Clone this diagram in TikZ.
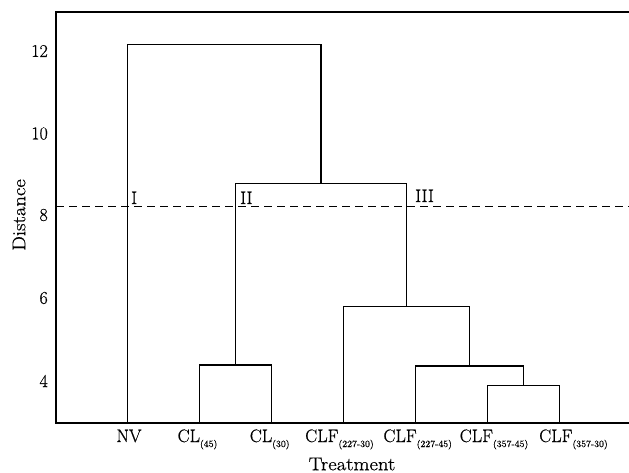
\documentclass[tikz,border=0pt]{standalone}
\usepackage{fontspec}
\setmainfont{Latin Modern Roman}[FakeBold=0.6]
\newfontfamily\widefont{Latin Modern Roman}[FakeStretch=1.12,FakeBold=0.6]
\newcommand{\subl}[1]{\raisebox{-5pt}{\fontsize{9.5}{10}\selectfont #1}}
\begin{document}
\begin{tikzpicture}[x=1pt,y=-1pt,
  txt/.style={font=\fontsize{18}{21}\selectfont, inner sep=0pt},
  widetxt/.style={font=\fontsize{18.5}{21}\widefont, inner sep=0pt},
  axisline/.style={line width=1.5pt},
  branch/.style={line width=1.4pt},
  cut/.style={line width=1.3pt, dash pattern=on 8pt off 5pt}]
\useasboundingbox (0,0) rectangle (629,473);

% axes
\coordinate (tr) at (629,12);
\coordinate (tl) at (56,12);
\coordinate (bl) at (56,423);
\coordinate (br) at (629,423);
\draw[axisline] (tr) -- (tl) -- (bl) -- (br);

% y tick labels
\node[txt, anchor=east] (t12) at (48,51) {12};
\node[txt, anchor=east] (t10) at (48,133.5) {10};
\node[txt, anchor=east] (t8) at (48,215) {8};
\node[txt, anchor=east] (t6) at (48,298) {6};
\node[txt, anchor=east] (t4) at (48,381) {4};
\node[widetxt, rotate=90] (ylab) at (19,215) {Distance};
\node[widetxt] (xlab) at (352,464) {Treatment};

% leaves
\coordinate (NV) at (127.5,423);
\coordinate (CLa) at (199.5,423);
\coordinate (CLb) at (271.5,423);
\coordinate (Fa) at (343.5,423);
\coordinate (Fb) at (415.5,423);
\coordinate (Fc) at (487.3,423);
\coordinate (Fd) at (559.3,423);

% merges
\coordinate (mcd) at (523.3,385.3);
\coordinate (mbcd) at (469.4,366);
\coordinate (mF) at (406.4,306.7);
\coordinate (mCL) at (235.5,365);
\coordinate (mII) at (321,183.3);
\coordinate (mTop) at (224,44.7);

\draw[branch] (Fc) |- (mcd) -| (Fd);
\draw[branch] (Fb) |- (mbcd) -| (mcd);
\draw[branch] (Fa) |- (mF) -| (mbcd);
\draw[branch] (CLa) |- (mCL) -| (CLb);
\draw[branch] (mCL) |- (mII) -| (mF);
\draw[branch] (NV) |- (mTop) -| (mII);

% cut line
\coordinate (cl) at (56,206.7);
\coordinate (cr) at (629,206.7);
\draw[cut] (cl) -- (cr);
\node[txt, anchor=base west] (g1) at (131,204) {I};
\node[txt, anchor=base west] (g2) at (240,204) {II};
\node[txt, anchor=base west] (g3) at (415,202) {III};

% leaf labels
\node[txt, anchor=base] (lNV) at (129,442) {NV};
\node[txt, anchor=base] (lCLa) at (197.5,442) {CL\subl{(45)}};
\node[txt, anchor=base] (lCLb) at (269.7,442) {CL\subl{(30)}};
\node[txt, anchor=base] (lFa) at (339.5,442) {CLF\subl{(227-30)}};
\node[txt, anchor=base] (lFb) at (417.7,442) {CLF\subl{(227-45)}};
\node[txt, anchor=base] (lFc) at (494,442) {CLF\subl{(357-45)}};
\node[txt, anchor=base] (lFd) at (573.5,442) {CLF\subl{(357-30)}};
\end{tikzpicture}
\end{document}
